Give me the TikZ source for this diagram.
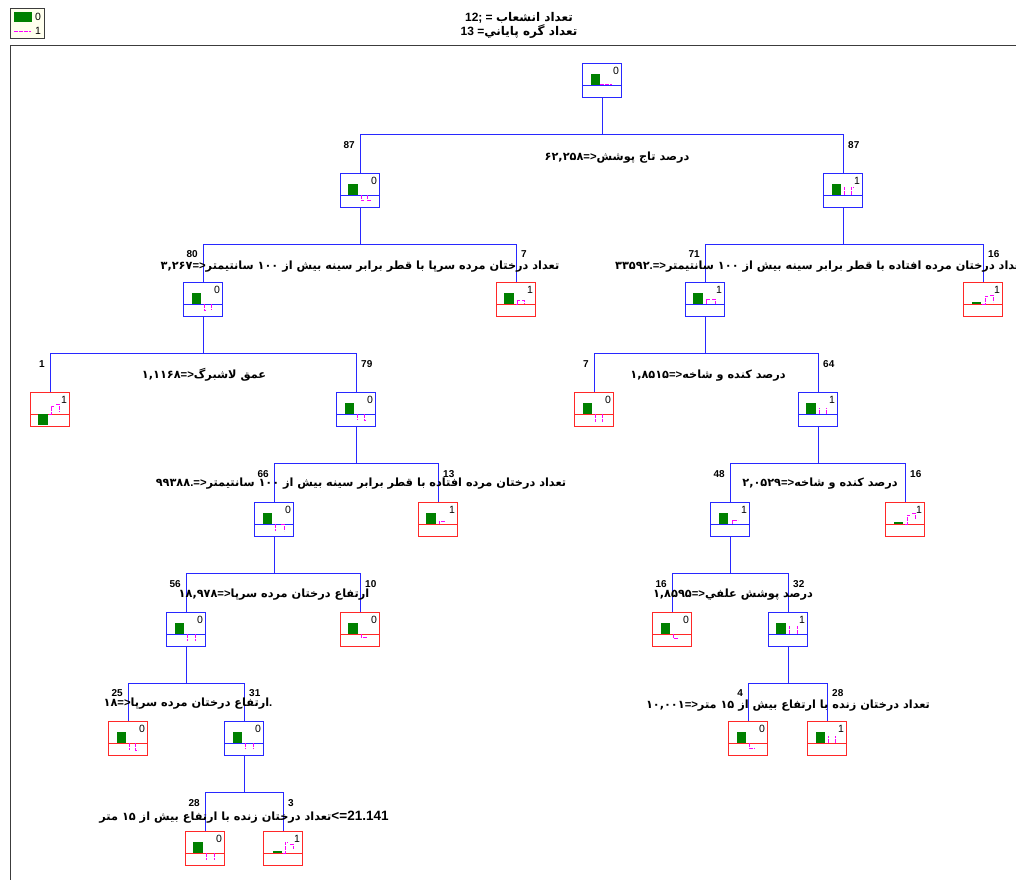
\documentclass[tikz,border=0pt]{standalone}
\usepackage{fontspec}
\setmainfont{Liberation Sans}
\newfontfamily\farsi[Script=Arabic]{DejaVu Sans}
\TeXXeTstate=1
\usetikzlibrary{positioning}

\tikzset{
  box/.style={draw, line width=0.8pt, minimum width=39pt, minimum height=34pt, inner sep=0pt},
  link/.style={draw=linkblue, line width=0.9pt},
  count/.style={font=\bfseries\fontsize{10}{11}\selectfont, inner sep=0pt},
  classnum/.style={font=\fontsize{10.5}{11}\selectfont, inner sep=0pt},
  splittext/.style={font=\farsi\bfseries\fontsize{11.3}{12}\selectfont, inner sep=0pt},
  headtext/.style={font=\farsi\bfseries\fontsize{12}{13}\selectfont, inner sep=0pt},
  pinkline/.style={draw=pinkdash, line width=1pt, dash pattern=on 4pt off 1pt}
}

% latin symbols and numbers inside the persian labels
\newcommand{\latinpart}[1]{{\rmfamily #1}}

% box with class number, green bar and pink dashed steps
\newcommand{\classbox}[7]{%
  \node[box, draw=#4, anchor=north] (#1) at (#2,#3) {};
  \begin{scope}[shift={(#1.north west)}]
    \draw[#4, line width=0.8pt] (0,22) -- (39,22);
    \node[classnum] (#1num) at (34,8) {#5};
    \fill[bargreen] #6;
    \draw[pinkline] #7;
  \end{scope}}

\begin{document}
\begin{tikzpicture}[x=1pt, y=-1pt]
    % Colours
    \definecolor{linkblue}{RGB}{40, 40, 255}
    \definecolor{leafred}{RGB}{255, 40, 40}
    \definecolor{bargreen}{RGB}{0, 128, 0}
    \definecolor{pinkdash}{RGB}{255, 0, 255}
    \definecolor{framegray}{RGB}{60, 60, 60}
    \definecolor{legendbg}{RGB}{255, 255, 238}

    \useasboundingbox (0,0) rectangle (1016,879);

    % Legend and header
    \node[draw=framegray, fill=legendbg, anchor=north west, minimum width=34pt, minimum height=30pt, inner sep=0pt] (legend) at (10,8) {};
    \fill[bargreen] (14,12) rectangle (32,22);
    \draw[pinkline] (14,31) -- (31,31);
    \node[classnum] (legend0) at (38,17) {0};
    \node[classnum] (legend1) at (38,31) {1};
    \node[headtext] (title1) at (519,18) {\latinpart{12; = }\beginR تعداد انشعاب\endR};
    \node[headtext] (title2) at (519,32) {\latinpart{13 =}\beginR تعداد گره پاياني\endR};

    % Frame
    \draw[framegray, line width=1pt] (10,45) rectangle (1040,900);

    % Boxes
    \classbox{n0}{602}{63}{linkblue}{0}{(9,11) rectangle (18,22)}{(18,21) -- (30,21)}

    \classbox{n1}{360}{173}{linkblue}{0}{(8,11) rectangle (18,22)}{(21,22) -- (21,27) -- (24,27) (27,22) -- (27,27) -- (31,27)}
    \classbox{n2}{843}{173}{linkblue}{1}{(9,11) rectangle (18,22)}{(21,22) -- (21,14) (28,22) -- (28,14) -- (31,14)}

    \classbox{n3}{203}{282}{linkblue}{0}{(9,11) rectangle (18,22)}{(21,22) -- (21,28) -- (23,28) (28,22) -- (28,28)}
    \classbox{n4}{516}{282}{leafred}{1}{(8,11) rectangle (18,22)}{(20,22) -- (21,22) -- (21,18) -- (24,18) (26,18) -- (28,18) -- (28,22)}
    \classbox{n5}{705}{282}{linkblue}{1}{(8,11) rectangle (18,22)}{(21,22) -- (21,17) -- (25,17) (27,17) -- (30,17) -- (30,22)}
    \classbox{n6}{983}{282}{leafred}{1}{(9,20) rectangle (18,22)}{(19,22) -- (22,22) -- (22,14) -- (25,14) (27,13) -- (30,13) -- (30,20)}

    \classbox{n7}{50}{392}{leafred}{1}{(8,22) rectangle (18,33)}{(19,22) -- (21,22) -- (21,14) -- (24,14) (26,12) -- (29,12) -- (29,20)}
    \classbox{n8}{356}{392}{linkblue}{0}{(9,11) rectangle (18,22)}{(21,22) -- (21,28) (28,22) -- (28,28) -- (30,28)}
    \classbox{n9}{594}{392}{leafred}{0}{(9,11) rectangle (18,22)}{(21,22) -- (21,30) (28,22) -- (28,30)}
    \classbox{n10}{818}{392}{linkblue}{1}{(8,11) rectangle (18,22)}{(21,22) -- (21,16) (28,22) -- (28,16)}

    \classbox{n11}{274}{502}{linkblue}{0}{(9,11) rectangle (18,22)}{(21,22) -- (21,29) (27,22) -- (30,22) -- (30,29)}
    \classbox{n12}{438}{502}{leafred}{1}{(8,11) rectangle (18,22)}{(21,22) -- (21,19) -- (27,19)}
    \classbox{n13}{730}{502}{linkblue}{1}{(9,11) rectangle (18,22)}{(22,22) -- (22,18) -- (28,18)}
    \classbox{n14}{905}{502}{leafred}{1}{(9,20) rectangle (18,22)}{(20,22) -- (22,22) -- (22,13) -- (25,13) (27,11) -- (30,11) -- (30,18)}

    \classbox{n15}{186}{612}{linkblue}{0}{(9,11) rectangle (18,22)}{(21,22) -- (21,29) (29,22) -- (29,29)}
    \classbox{n16}{360}{612}{leafred}{0}{(8,11) rectangle (18,22)}{(21,22) -- (21,25) -- (27,25)}
    \classbox{n17}{672}{612}{leafred}{0}{(9,11) rectangle (18,22)}{(21,22) -- (21,26) -- (27,26)}
    \classbox{n18}{788}{612}{linkblue}{1}{(8,11) rectangle (18,22)}{(21,22) -- (21,14) (29,22) -- (29,14)}

    \classbox{n19}{128}{721}{leafred}{0}{(9,11) rectangle (18,22)}{(21,22) -- (21,29) (27,22) -- (27,29) -- (30,29)}
    \classbox{n20}{244}{721}{linkblue}{0}{(9,11) rectangle (18,22)}{(21,22) -- (21,28) (29,22) -- (29,28)}
    \classbox{n21}{748}{721}{leafred}{0}{(9,11) rectangle (18,22)}{(21,22) -- (21,27) -- (27,27)}
    \classbox{n22}{827}{721}{leafred}{1}{(9,11) rectangle (18,22)}{(21,22) -- (21,15) (28,22) -- (28,15)}

    \classbox{n23}{205}{831}{leafred}{0}{(8,11) rectangle (18,22)}{(21,22) -- (21,29) (29,22) -- (29,29)}
    \classbox{n24}{283}{831}{leafred}{1}{(10,20) rectangle (19,22)}{(20,22) -- (22,22) -- (22,11) -- (25,11) (27,13) -- (30,13) -- (30,18)}

    % Branches
    \foreach \p/\a/\b in {n0/n1/n2, n1/n3/n4, n2/n5/n6, n3/n7/n8, n5/n9/n10,
                          n8/n11/n12, n10/n13/n14, n11/n15/n16, n13/n17/n18,
                          n15/n19/n20, n18/n21/n22, n20/n23/n24} {
      \draw[link] (\p.south) -- ++(0,37) -| (\a.north);
      \draw[link] (\p.south) -- ++(0,37) -| (\b.north);
    }

    % Case counts
    \foreach \n/\c in {n1/87, n3/80, n5/71, n7/1, n9/7, n11/66, n13/48, n15/56, n17/16, n19/25, n21/4, n23/28}
      \node[count, above left=24pt and 5pt of \n.north] (\n count) {\c};
    \foreach \n/\c in {n2/87, n4/7, n6/16, n8/79, n10/64, n12/13, n14/16, n16/10, n18/32, n20/31, n22/28, n24/3}
      \node[count, above right=24pt and 5pt of \n.north] (\n count) {\c};

    % Split conditions
    \node[splittext] (s0) at (617,158) {۶۲,۲۵۸\latinpart{=>}\beginR درصد تاج پوشش\endR};
    \node[splittext] (s1) at (360,267) {۳,۲۶۷\latinpart{=>}\beginR تعداد درختان مرده سرپا با قطر برابر سینه بیش از \beginL۱۰۰\endL{} سانتیمتر\endR};
    \node[splittext, anchor=west] (s2) at (615,267) {۳۳۵۹۲\latinpart{.=>}\beginR تعداد درختان مرده افتاده با قطر برابر سینه بیش از \beginL۱۰۰\endL{} سانتیمتر\endR};
    \node[splittext] (s3) at (204,375) {۱,۱۱۶۸\latinpart{=>}\beginR عمق لاشبرگ\endR};
    \node[splittext] (s5) at (708,376) {۱,۸۵۱۵\latinpart{=>}\beginR درصد کنده و شاخه\endR};
    \node[splittext] (s8) at (361,484) {۹۹۳۸۸\latinpart{.=>}\beginR تعداد درختان مرده افتاده با قطر برابر سینه بیش از \beginL۱۰۰\endL{} سانتیمتر\endR};
    \node[splittext] (s10) at (820,484) {۲,۰۵۲۹\latinpart{=>}\beginR درصد کنده و شاخه\endR};
    \node[splittext] (s11) at (274,595) {۱۸,۹۷۸\latinpart{=>}\beginR ارتفاع درختان مرده سرپا\endR};
    \node[splittext] (s13) at (733,595) {۱,۸۵۹۵\latinpart{=>}\beginR درصد پوشش علفي\endR};
    \node[splittext] (s15) at (188,704) {۱۸\latinpart{=>}\beginR ارتفاع درختان مرده سرپا\endR\latinpart{.}};
    \node[splittext] (s18) at (788,706) {۱۰,۰۰۱\latinpart{=>}\beginR تعداد درختان زنده با ارتفاع بیش از \beginL۱۵\endL{} متر\endR};
    \node[splittext] (s20) at (244,817) {\beginR تعداد درختان زنده با ارتفاع بیش از \beginL۱۵\endL{} متر\endR\latinpart{\fontsize{13.5}{14}\selectfont<=21.141}};

\end{tikzpicture}
\end{document}
